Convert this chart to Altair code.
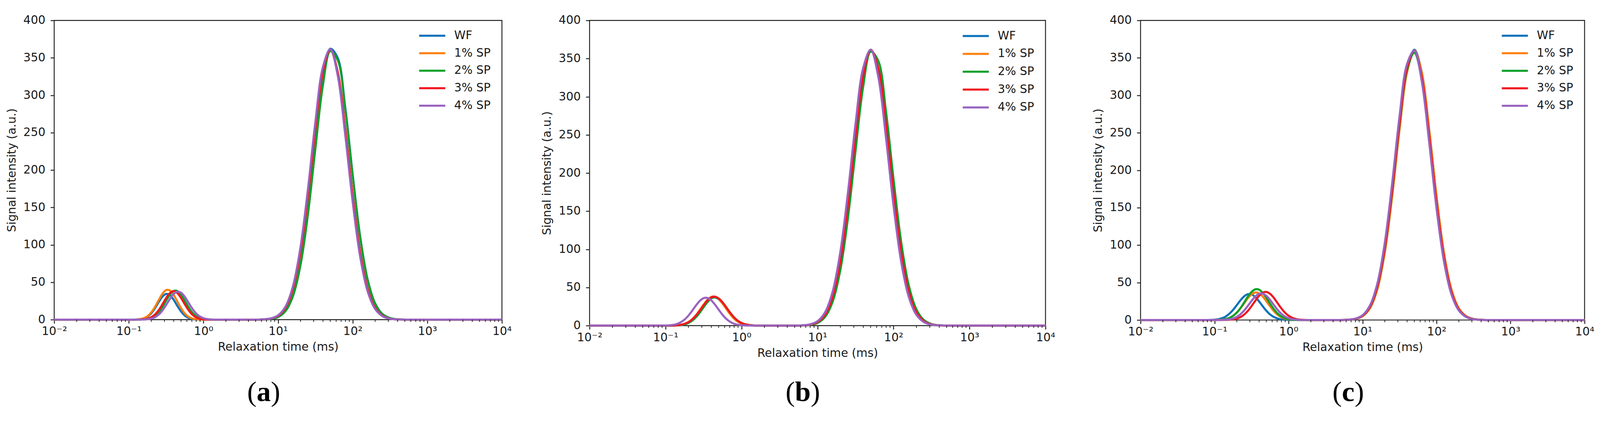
import altair as alt
import pandas as pd

SERIES = ["WF", "1% SP", "2% SP", "3% SP", "4% SP"]
COLORS = ["#0a72ba", "#ff7f0e", "#0aa02a", "#f01820", "#9a63c0"]

# log10 of relaxation time (ms)
LOG_T_SMALL = [-1.2, -1.15, -1.1, -1.05, -1.0, -0.95, -0.9, -0.85, -0.8, -0.75, -0.7,
               -0.65, -0.6, -0.55, -0.5, -0.45, -0.4, -0.35, -0.3, -0.25, -0.2, -0.15,
               -0.1, -0.05, 0.0, 0.05, 0.1, 0.15, 0.2, 0.25, 0.3]
LOG_T_MAIN = [0.8, 0.9, 1.0, 1.1, 1.2, 1.3, 1.4, 1.5, 1.6, 1.7, 1.8, 1.9, 2.0, 2.1,
              2.2, 2.3, 2.4, 2.5, 2.6]
LOG_T_FLAT = [-2.0, 0.5, 0.7, 2.8, 3.0, 4.0]   # points where the signal is 0

# ---- panel (a) ----
A_SMALL = {
    "WF":    [0, 0, 0, 0, 0.01, 0.04, 0.16, 0.55, 1.6, 4.0, 8.4, 15.2, 23.4, 30.7, 34.4, 32.8, 26.6, 18.4, 10.9, 5.5, 2.3, 0.85, 0.27, 0.07, 0.02, 0, 0, 0, 0, 0, 0],
    "1% SP": [0, 0, 0, 0, 0.01, 0.06, 0.22, 0.70, 1.9, 4.6, 9.6, 17.0, 26.1, 34.6, 39.5, 39.0, 33.1, 24.3, 15.3, 8.4, 3.9, 1.6, 0.56, 0.17, 0.04, 0.01, 0, 0, 0, 0, 0],
    "2% SP": [0, 0, 0, 0, 0, 0, 0.02, 0.08, 0.28, 0.82, 2.2, 4.9, 9.7, 16.8, 25.4, 33.4, 38.3, 38.3, 33.4, 25.4, 16.8, 9.7, 4.9, 2.2, 0.82, 0.28, 0.08, 0.02, 0, 0, 0],
    "3% SP": [0, 0, 0, 0, 0, 0.01, 0.04, 0.15, 0.47, 1.3, 3.2, 6.8, 12.7, 20.5, 28.9, 35.5, 38.0, 35.5, 28.9, 20.5, 12.7, 6.8, 3.2, 1.3, 0.47, 0.15, 0.04, 0.01, 0, 0, 0],
    "4% SP": [0, 0, 0, 0, 0, 0, 0.01, 0.05, 0.17, 0.51, 1.4, 3.2, 6.7, 12.2, 19.5, 27.5, 34.2, 37.4, 36.0, 30.5, 22.7, 14.9, 8.6, 4.4, 2.0, 0.78, 0.27, 0.08, 0.02, 0, 0],
}
A_MAIN = {
    "WF":    [0.2, 0.9, 3.6, 11.6, 31.9, 73.3, 141.8, 230.6, 315.2, 362.2, 349.8, 284.0, 193.9, 111.2, 53.6, 21.8, 7.4, 2.1, 0.5],
    "1% SP": [0.3, 1.4, 5.1, 15.8, 41.1, 89.8, 164.8, 254.4, 330.1, 360.0, 330.1, 254.4, 164.8, 89.8, 41.1, 15.8, 5.1, 1.4, 0.3],
    "2% SP": [0.2, 0.9, 3.5, 11.5, 31.6, 72.7, 140.6, 228.7, 312.6, 359.2, 346.9, 281.7, 192.3, 110.3, 53.2, 21.6, 7.3, 2.1, 0.5],
    "3% SP": [0.3, 1.4, 5.1, 15.8, 41.2, 90.0, 165.3, 255.1, 331.0, 361.0, 331.0, 255.1, 165.3, 90.0, 41.2, 15.8, 5.1, 1.4, 0.3],
    "4% SP": [0.4, 1.6, 5.8, 17.6, 45.0, 96.7, 174.4, 264.6, 337.4, 361.7, 325.9, 246.8, 157.2, 84.1, 37.9, 14.3, 4.6, 1.2, 0.3],
}

# ---- panel (b) ----
B_SMALL = {
    "WF":    [0, 0, 0, 0, 0.01, 0.04, 0.13, 0.34, 0.84, 1.9, 3.9, 7.2, 12.0, 18.3, 25.2, 31.6, 35.9, 36.9, 34.5, 29.2, 22.4, 15.6, 9.9, 5.7, 2.9, 1.4, 0.59, 0.23, 0.08, 0.03, 0.01],
    "1% SP": [0, 0, 0, 0, 0.02, 0.05, 0.16, 0.43, 1.03, 2.3, 4.6, 8.3, 13.6, 20.3, 27.5, 33.8, 37.6, 38.0, 34.8, 28.9, 21.8, 14.9, 9.2, 5.2, 2.6, 1.2, 0.51, 0.20, 0.07, 0.02, 0],
    "2% SP": [0, 0, 0, 0, 0.01, 0.03, 0.10, 0.28, 0.71, 1.6, 3.4, 6.4, 11.0, 17.0, 24.0, 30.6, 35.4, 37.2, 35.4, 30.6, 24.0, 17.0, 11.0, 6.4, 3.4, 1.6, 0.71, 0.28, 0.10, 0.03, 0.01],
    "3% SP": [0, 0, 0, 0.01, 0.02, 0.06, 0.18, 0.46, 1.08, 2.3, 4.5, 8.1, 13.2, 19.6, 26.5, 32.8, 36.9, 37.9, 35.6, 30.4, 23.8, 16.9, 11.0, 6.5, 3.5, 1.7, 0.78, 0.32, 0.12, 0.04, 0.01],
    "4% SP": [0, 0, 0.02, 0.05, 0.15, 0.41, 0.99, 2.2, 4.4, 7.9, 13.0, 19.4, 26.3, 32.3, 36.0, 36.3, 33.3, 27.6, 20.8, 14.2, 8.8, 5.0, 2.5, 1.2, 0.49, 0.19, 0.06, 0.02, 0, 0, 0],
}
B_MAIN = {
    "WF":    [0.3, 1.2, 4.6, 14.3, 37.8, 83.9, 156.8, 246.1, 325.0, 360.7, 336.5, 263.9, 173.9, 96.4, 44.9, 17.6, 5.8, 1.6, 0.4],
    "1% SP": [0.3, 1.4, 5.1, 15.8, 41.2, 90.0, 165.3, 255.1, 331.0, 361.0, 331.0, 255.1, 165.3, 90.0, 41.2, 15.8, 5.1, 1.4, 0.3],
    "2% SP": [0.2, 0.9, 3.5, 11.5, 31.6, 72.7, 140.6, 228.7, 312.6, 359.2, 346.9, 281.7, 192.3, 110.3, 53.2, 21.6, 7.3, 2.1, 0.5],
    "3% SP": [0.3, 1.2, 4.6, 14.3, 37.9, 84.1, 157.2, 246.8, 325.9, 361.7, 337.4, 264.6, 174.4, 96.7, 45.0, 17.6, 5.8, 1.6, 0.4],
    "4% SP": [0.4, 1.6, 5.8, 17.6, 45.0, 96.7, 174.4, 264.6, 337.4, 361.7, 325.9, 246.8, 157.2, 84.1, 37.9, 14.3, 4.6, 1.2, 0.3],
}

# ---- panel (c) ----
C_SMALL = {
    "WF":    [0.01, 0.02, 0.06, 0.18, 0.47, 1.1, 2.4, 4.7, 8.4, 13.5, 19.8, 26.3, 31.6, 34.5, 34.2, 30.7, 25.0, 18.5, 12.4, 7.5, 4.1, 2.1, 0.94, 0.39, 0.14, 0.05, 0.01, 0, 0, 0, 0],
    "1% SP": [0, 0, 0.01, 0.03, 0.08, 0.23, 0.59, 1.4, 2.9, 5.6, 9.8, 15.6, 22.3, 29.1, 34.3, 36.7, 35.7, 31.4, 25.1, 18.2, 11.9, 7.1, 3.8, 1.9, 0.84, 0.34, 0.13, 0.04, 0.01, 0, 0],
    "2% SP": [0, 0, 0.01, 0.02, 0.07, 0.21, 0.55, 1.3, 2.8, 5.6, 9.9, 16.0, 23.5, 31.2, 37.5, 41.0, 40.6, 36.4, 29.7, 21.9, 14.7, 8.9, 4.9, 2.5, 1.1, 0.46, 0.17, 0.06, 0.02, 0, 0],
    "3% SP": [0, 0, 0, 0, 0, 0.01, 0.04, 0.13, 0.35, 0.86, 1.9, 3.9, 7.3, 12.2, 18.6, 25.6, 32.1, 36.4, 37.5, 35.0, 29.7, 22.8, 15.9, 10.0, 5.8, 3.0, 1.4, 0.60, 0.23, 0.08, 0.03],
    "4% SP": [0, 0, 0, 0, 0.02, 0.05, 0.15, 0.40, 0.96, 2.1, 4.2, 7.7, 12.7, 18.9, 25.6, 31.4, 35.0, 35.3, 32.3, 26.9, 20.2, 13.8, 8.6, 4.8, 2.5, 1.1, 0.48, 0.18, 0.06, 0.02, 0],
}
C_MAIN = {
    "WF":    [0.3, 1.4, 5.1, 15.8, 41.2, 90.0, 165.3, 255.1, 331.0, 361.0, 331.0, 255.1, 165.3, 90.0, 41.2, 15.8, 5.1, 1.4, 0.3],
    "1% SP": [0.3, 1.4, 5.1, 15.8, 41.1, 89.8, 164.8, 254.4, 330.1, 360.0, 330.1, 254.4, 164.8, 89.8, 41.1, 15.8, 5.1, 1.4, 0.3],
    "2% SP": [0.4, 1.6, 5.7, 17.4, 44.4, 95.4, 172.0, 261.0, 332.8, 356.7, 321.4, 243.4, 155.0, 83.0, 37.3, 14.1, 4.5, 1.2, 0.3],
    "3% SP": [0.4, 1.6, 5.8, 17.5, 44.8, 96.2, 173.5, 263.2, 335.6, 359.7, 324.1, 245.5, 156.3, 83.7, 37.7, 14.2, 4.5, 1.2, 0.3],
    "4% SP": [0.4, 1.8, 6.5, 19.5, 48.8, 103.1, 182.8, 272.5, 341.5, 359.7, 318.6, 237.2, 148.4, 78.1, 34.5, 12.8, 4.0, 1.0, 0.2],
}

MAJOR_TICKS = [0.01, 0.1, 1, 10, 100, 1000, 10000]
MINOR_MULT = [2, 3, 4, 5, 6, 7, 8, 9]
Y_TICKS = [0, 50, 100, 150, 200, 250, 300, 350, 400]
PANEL_LETTERS = ["a", "b", "c"]


def build_df(small, main):
    rows = []
    for s in SERIES:
        assert len(small[s]) == len(LOG_T_SMALL), s
        assert len(main[s]) == len(LOG_T_MAIN), s
        pts = [(lt, 0.0) for lt in LOG_T_FLAT]
        pts += list(zip(LOG_T_SMALL, small[s]))
        pts += list(zip(LOG_T_MAIN, main[s]))
        pts.sort()
        for lt, v in pts:
            rows.append({"series": s, "t": 10 ** lt, "y": v})
    return pd.DataFrame(rows)


LABEL_EXPR = ("datum.value < 0.05 ? '10⁻²' : datum.value < 0.5 ? '10⁻¹' : "
              "datum.value < 5 ? '10⁰' : datum.value < 50 ? '10¹' : "
              "datum.value < 500 ? '10²' : datum.value < 5000 ? '10³' : '10⁴'")

color_scale = alt.Scale(domain=SERIES, range=COLORS)
minor_df = pd.DataFrame({"t": [d * m for d in MAJOR_TICKS[:-1] for m in MINOR_MULT]})
legend_df = pd.DataFrame({"series": SERIES})


def x_axis():
    return alt.Axis(values=MAJOR_TICKS, labelExpr=LABEL_EXPR, labelFlush=False,
                    title="Relaxation time (ms)")


def panel(df, w, h, letter, cx, half):
    xs = alt.Scale(type="log", domain=[0.01, 10000], nice=False)
    lines = alt.Chart(df).mark_line(strokeWidth=5.5, interpolate="catmull-rom").encode(
        x=alt.X("t:Q", scale=xs, axis=x_axis()),
        y=alt.Y("y:Q", scale=alt.Scale(domain=[0, 400], nice=False),
                axis=alt.Axis(values=Y_TICKS, title="Signal intensity (a.u.)")),
        color=alt.Color("series:N", scale=color_scale, legend=None),
    )
    minor = alt.Chart(minor_df).mark_rule(color="#222222", strokeWidth=2).encode(
        x=alt.X("t:Q", scale=xs, axis=x_axis()),
        y=alt.value(h), y2=alt.value(h + 6),
    )
    ly = alt.Y("series:N", axis=None,
               scale=alt.Scale(type="point", domain=SERIES, padding=0,
                               range=[h * 0.051, h * 0.285]))
    leg_lines = alt.Chart(legend_df).mark_rule(strokeWidth=5.5).encode(
        x=alt.value(w - 222), x2=alt.value(w - 152), y=ly,
        color=alt.Color("series:N", scale=color_scale, legend=None),
    )
    leg_text = alt.Chart(legend_df).mark_text(
        align="left", baseline="middle", fontSize=31, font="DejaVu Sans", color="#1a1a1a"
    ).encode(x=alt.value(w - 128), y=ly, text="series:N")

    lab_df = pd.DataFrame({"letter": [letter]})
    lab_y = 1020
    p_left = alt.Chart(lab_df).mark_text(
        text="(", align="right", baseline="alphabetic", font="Liberation Serif",
        fontSize=76, color="black").encode(x=alt.value(cx - half), y=alt.value(lab_y))
    p_mid = alt.Chart(lab_df).mark_text(
        align="center", baseline="alphabetic", font="Liberation Serif",
        fontSize=76, fontWeight="bold", color="black").encode(
        x=alt.value(cx), y=alt.value(lab_y), text="letter:N")
    p_right = alt.Chart(lab_df).mark_text(
        text=")", align="left", baseline="alphabetic", font="Liberation Serif",
        fontSize=76, color="black").encode(x=alt.value(cx + half), y=alt.value(lab_y))

    return alt.layer(lines, minor, leg_lines, leg_text, p_left, p_mid, p_right).resolve_scale(
        y="independent").properties(width=w, height=h)


pa = panel(build_df(A_SMALL, A_MAIN), 1201, 802, PANEL_LETTERS[0], 562, 19)
pb = panel(build_df(B_SMALL, B_MAIN), 1223, 818, PANEL_LETTERS[1], 572, 21)
pc = panel(build_df(C_SMALL, C_MAIN), 1191, 803, PANEL_LETTERS[2], 557, 17)

chart = alt.hconcat(alt.hconcat(pa, pb, spacing=76), pc, spacing=96).properties(
    padding={"left": 6, "top": 3, "right": 5, "bottom": 5}
).configure_view(
    stroke="#222222", strokeWidth=2.5
).configure_axis(
    domain=False, grid=False, tickColor="#222222", tickWidth=2.5, tickSize=10,
    labelFont="DejaVu Sans", labelFontSize=31, labelColor="#1a1a1a",
    titleFont="DejaVu Sans", titleFontSize=31, titleFontWeight="normal", titleColor="#1a1a1a",
).configure_axisX(
    labelPadding=7, titlePadding=12
).configure_axisY(
    labelPadding=14, titlePadding=14
)

chart.save("out.html", embed_options={"renderer": "svg", "actions": False})
